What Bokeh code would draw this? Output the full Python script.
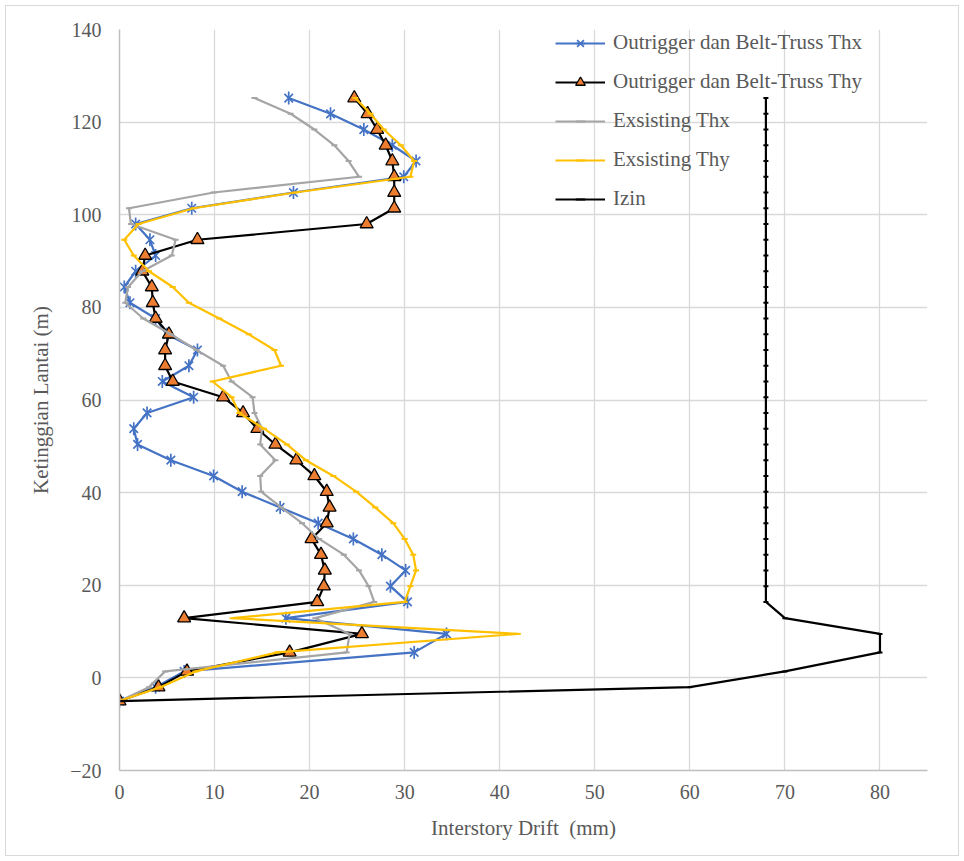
from bokeh.plotting import figure
from bokeh.models import Range1d, FixedTicker, Legend, LegendItem
from bokeh.embed import file_html
from bokeh.resources import INLINE
import math

# Floor heights (m), bottom to top
heights = [-5, -2, 1.4, 5.5, 9.5, 12.9, 16.4, 19.8, 23.2, 26.6, 30.0, 33.4, 36.8,
           40.2, 43.6, 47.0, 50.4, 53.8, 57.2, 60.6, 64.0, 67.4, 70.8, 74.2, 77.6,
           81.0, 84.4, 87.8, 91.2, 94.6, 98.0, 101.4, 104.8, 108.2, 111.6, 115.0,
           118.4, 121.8, 125.2]

# Interstory drift (mm)
obt_thx = [0, 3.8, 6.8, 31.0, 34.4, 17.5, 30.3, 28.5, 30.1, 27.6, 24.6, 20.9, 16.9,
           12.9, 9.9, 5.4, 1.9, 1.5, 2.9, 7.8, 4.5, 7.3, 8.2, 5.0, 3.8,
           1.1, 0.5, 1.7, 3.8, 3.2, 1.7, 7.6, 18.3, 29.9, 31.2, 28.7,
           25.7, 22.2, 17.8]
obt_thy = [0, 4.1, 7.1, 17.9, 25.5, 6.8, 20.8, 21.5, 21.6, 21.2, 20.2, 21.8, 22.1,
           21.8, 20.5, 18.6, 16.4, 14.5, 13.0, 10.9, 5.6, 4.8, 4.8, 5.2, 3.8,
           3.5, 3.4, 2.4, 2.7, 8.2, 26.0, 28.9, 28.9, 28.9, 28.7, 28.0,
           27.1, 26.1, 24.7]
exs_thx = [0, 3.1, 4.8, 23.9, 24.2, 20.6, 26.8, 26.2, 25.2, 23.6, 21.0, 19.2, 17.0,
           14.9, 14.8, 16.4, 14.8, 15.0, 14.2, 14.0, 11.8, 10.9, 8.1, 5.4, 2.5,
           0.6, 0.9, 2.4, 5.5, 5.9, 1.2, 1.0, 9.9, 25.2, 24.1, 22.6,
           20.5, 18.0, 14.2]
exs_thy = [0, 4.3, 8.0, 16.6, 41.9, 11.9, 30.0, 30.6, 31.2, 30.9, 30.0, 28.8, 26.9,
           24.9, 22.5, 19.6, 17.6, 15.2, 12.6, 11.8, 9.8, 17.0, 16.3, 13.6, 10.5,
           7.3, 5.6, 3.1, 1.5, 0.5, 2.0, 7.8, 18.5, 30.6, 31.0, 29.6,
           27.8, 26.4, 24.8]
izin = [0, 60, 70, 80, 80, 70, 68, 68, 68, 68, 68, 68, 68,
        68, 68, 68, 68, 68, 68, 68, 68, 68, 68, 68, 68,
        68, 68, 68, 68, 68, 68, 68, 68, 68, 68, 68,
        68, 68, 68]

series_names = ["Outrigger dan Belt-Truss Thx", "Outrigger dan Belt-Truss Thy",
                "Exsisting Thx", "Exsisting Thy", "Izin"]
x_ticks = [0, 10, 20, 30, 40, 50, 60, 70, 80]
y_ticks = [-20, 0, 20, 40, 60, 80, 100, 120, 140]

FONT = "Liberation Serif"
TXT = "#595959"

p = figure(width=964, height=861, output_backend="svg", toolbar_location=None,
           x_range=Range1d(0, 85), y_range=Range1d(-20, 140),
           min_border_left=119, min_border_right=37, min_border_top=29,
           min_border_bottom=91)
p.outline_line_color = None
p.background_fill_color = "white"
p.border_fill_alpha = 0
p.styles = {"outline": "1px solid #d9d9d9", "outline-offset": "-6px"}

for ax in (p.xaxis[0], p.yaxis[0]):
    ax.major_tick_line_color = None
    ax.minor_tick_line_color = None
    ax.major_tick_out = 0
    ax.major_tick_in = 0
    ax.axis_line_color = "#bfbfbf"
    ax.axis_line_width = 1.5
    ax.major_label_text_font = FONT
    ax.major_label_text_font_size = "20px"
    ax.major_label_text_color = TXT
    ax.axis_label_text_font = FONT
    ax.axis_label_text_font_size = "21px"
    ax.axis_label_text_color = TXT
    ax.axis_label_text_font_style = "normal"

p.xaxis.ticker = FixedTicker(ticks=x_ticks)
p.yaxis.ticker = FixedTicker(ticks=y_ticks)
p.xaxis.major_label_standoff = 14
p.yaxis.major_label_standoff = 18
p.xaxis.axis_label_standoff = 14
p.yaxis.axis_label_standoff = 14
p.xaxis.axis_label = "Interstory Drift\u00a0 (mm)"
p.yaxis.axis_label = "Ketinggian Lantai (m)"

p.xgrid.ticker = FixedTicker(ticks=x_ticks)
p.ygrid.ticker = FixedTicker(ticks=y_ticks)
p.grid.grid_line_color = "#d9d9d9"
p.grid.grid_line_width = 1.3

items = []

# Outrigger dan Belt-Truss Thx
BLUE = "#4472C4"
l1 = p.line(obt_thx, heights, line_color=BLUE, line_width=2.2)
m1a = p.scatter(obt_thx, heights, marker="x", size=12, line_color=BLUE, line_width=1.7)
m1b = p.scatter(obt_thx, heights, marker="dash", angle=math.pi / 2, size=13,
                line_color=BLUE, line_width=1.7)
items.append(LegendItem(label=series_names[0], renderers=[l1, m1a, m1b]))

# Outrigger dan Belt-Truss Thy
l2 = p.line(obt_thy, heights, line_color="black", line_width=2.2)
m2 = p.scatter(obt_thy, heights, marker="triangle", size=13, fill_color="#ED7D31",
               line_color="black", line_width=1.3)
items.append(LegendItem(label=series_names[1], renderers=[l2, m2]))

# Exsisting Thx
GRAY = "#A5A5A5"
l3 = p.line(exs_thx, heights, line_color=GRAY, line_width=2.2)
m3 = p.scatter(exs_thx, heights, marker="dash", size=6, line_color=GRAY, line_width=2)
items.append(LegendItem(label=series_names[2], renderers=[l3, m3]))

# Exsisting Thy
YEL = "#FFC000"
l4 = p.line(exs_thy, heights, line_color=YEL, line_width=2.2)
m4 = p.scatter(exs_thy, heights, marker="dash", size=6, line_color=YEL, line_width=2)
items.append(LegendItem(label=series_names[3], renderers=[l4, m4]))

# Izin
l5 = p.line(izin, heights, line_color="black", line_width=2.2)
m5 = p.scatter(izin, heights, marker="dash", size=5, line_color="black", line_width=2)
items.append(LegendItem(label=series_names[4], renderers=[l5, m5]))

legend = Legend(items=items, location=(436, 559), orientation="vertical",
                background_fill_alpha=0, border_line_color=None,
                label_text_font=FONT, label_text_font_size="21px",
                label_text_color=TXT, glyph_width=50, glyph_height=24,
                label_height=24, spacing=14, padding=0, margin=0,
                label_standoff=8)
p.add_layout(legend, "center")

open("out.html", "w").write(file_html(p, INLINE))
